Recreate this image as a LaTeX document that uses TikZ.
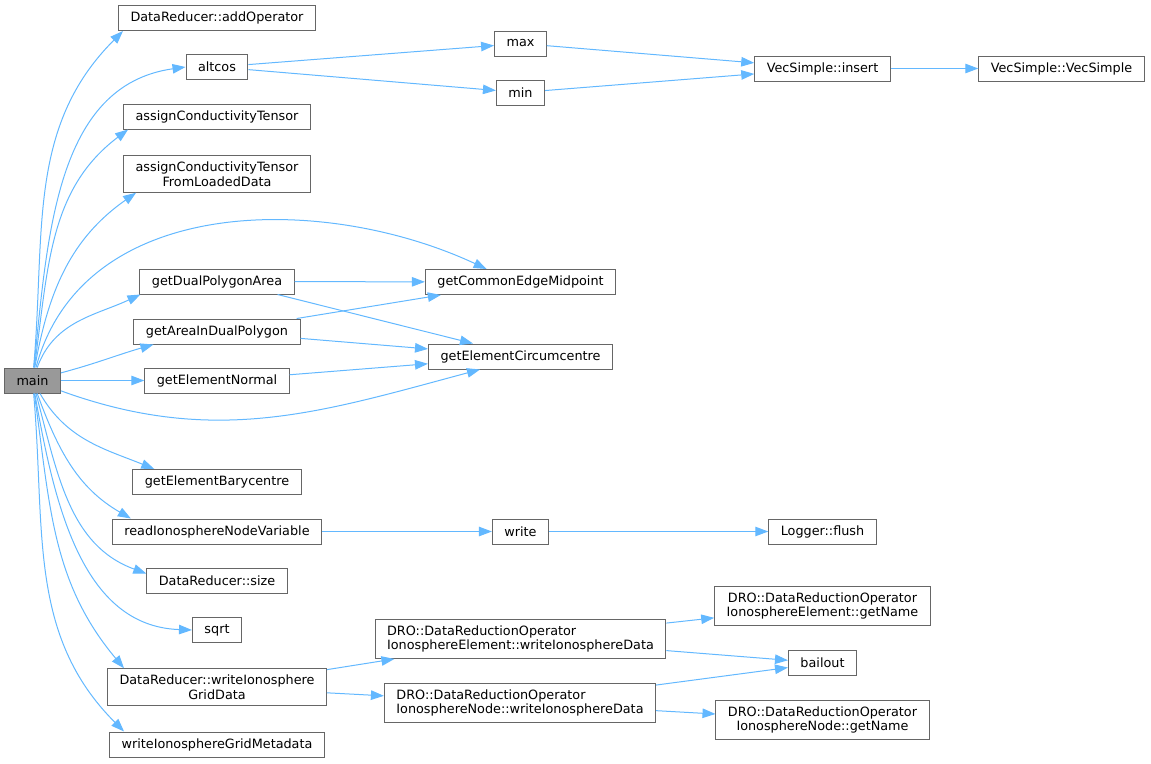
\documentclass[tikz,border=0pt]{standalone}
\usepackage{fontspec}
\setmainfont{DejaVu Sans}
\usetikzlibrary{arrows.meta}
\definecolor{edgeblue}{HTML}{63B8FF}
\definecolor{boxline}{HTML}{666666}
\definecolor{mainfill}{HTML}{999999}

\begin{document}
\begin{tikzpicture}[x=1pt,y=1pt,
    fn/.style={draw=boxline,line width=1pt,fill=white,inner xsep=12pt,inner ysep=6pt,
      minimum height=25pt,align=center,font=\fontsize{12.8}{14.5}\selectfont},
    call/.style={draw=edgeblue,line width=1pt,-{Triangle[length=13pt,width=9.5pt]}}]
    \useasboundingbox (0,0) rectangle (1151,-763);
    \node[fn,fill=mainfill] (main) at (32.5,-380.5) {main};
    % functions called by main
    \foreach \n/\y/\t in {addop/18/{DataReducer::addOperator},altcos/67/altcos,
        act/116.5/assignConductivityTensor,
        actfld/174/{assignConductivityTensor\\FromLoadedData},
        gdpa/281.5/getDualPolygonArea,gaidp/331.5/getAreaInDualPolygon,
        gen/380.5/getElementNormal,geb/482/getElementBarycentre,
        rinv/531.5/readIonosphereNodeVariable,drsize/580.5/{DataReducer::size},
        sqrt/630/sqrt,wigd/687/{DataReducer::writeIonosphere\\GridData},
        wigm/744.5/writeIonosphereGridMetadata}{%
      \node[fn] (\n) at (217,-\y) {\t};
    }
    % second level
    \foreach \n/\y/\t in {max/43.5/max,min/92.5/min,gcem/282/getCommonEdgeMidpoint,
        gec/356.5/getElementCircumcentre,write/531.5/write}{%
      \node[fn] (\n) at (520.5,-\y) {\t};
    }
    \node[fn,align=left] (droew) at (520.5,-639)
      {DRO::DataReductionOperator\\IonosphereElement::writeIonosphereData};
    \node[fn,align=left] (dronw) at (520,-703)
      {DRO::DataReductionOperator\\IonosphereNode::writeIonosphereData};
    % third level
    \foreach \n/\y/\t in {insert/68.5/{VecSimple::insert},flush/531.5/{Logger::flush},
        droeg/606/{DRO::DataReductionOperator\\IonosphereElement::getName},
        bailout/663/bailout,
        drong/720/{DRO::DataReductionOperator\\IonosphereNode::getName}}{%
      \node[fn] (\n) at (822.5,-\y) {\t};
    }
    \node[fn] (vecsimple) at (1061.5,-68.5) {VecSimple::VecSimple};

    % calls from main
    \draw[call] (main) to[out=85,in=225] ([xshift=5pt]addop.south west);
    \draw[call] (main) to[out=84,in=188] (altcos.west);
    \draw[call] (main) to[out=82,in=217] ([xshift=5pt]act.south west);
    \draw[call] (main) to[out=80,in=215] ([xshift=13pt]actfld.south west);
    \draw[call] (main) to[out=75,in=155] (gcem.159);
    \draw[call] (main) to[out=70,in=205] ([xshift=1pt]gdpa.south west);
    \draw[call] (main) to[out=15,in=196] ([xshift=20pt]gaidp.south west);
    \draw[call] (main) -- (gen);
    \draw[call] (main) to[out=-20,in=195] ([xshift=52pt]gec.south west);
    \draw[call] (main) to[out=-60,in=158] ([xshift=22pt]geb.north west);
    \draw[call] (main) to[out=-70,in=150] ([xshift=19pt]rinv.north west);
    \draw[call] (main) to[out=-75,in=160] ([yshift=7pt]drsize.west);
    \draw[call] (main) to[out=-80,in=178] (sqrt.west);
    \draw[call] (main) to[out=-82,in=130] ([xshift=17pt]wigd.north west);
    \draw[call] (main) to[out=-85,in=135] ([xshift=15pt]wigm.north west);
    % other calls
    \draw[call] (altcos) -- (max);
    \draw[call] (altcos) -- (min);
    \draw[call] (max) -- (insert);
    \draw[call] (min) -- (insert);
    \draw[call] (insert) -- (vecsimple);
    \draw[call] (gdpa) -- (gcem);
    \draw[call] ([xshift=-17pt]gdpa.south east) -- ([xshift=45pt]gec.north west);
    \draw[call] (gaidp) -- (gcem);
    \draw[call] (gaidp) -- (gec);
    \draw[call] (gen) -- (gec);
    \draw[call] (rinv) -- (write);
    \draw[call] (write) -- (flush);
    \draw[call] (wigd) -- (droew);
    \draw[call] (wigd) -- (dronw);
    \draw[call] (droew) -- (droeg);
    \draw[call] (droew) -- (bailout);
    \draw[call] (dronw) -- (bailout);
    \draw[call] (dronw) -- (drong);
\end{tikzpicture}
\end{document}
